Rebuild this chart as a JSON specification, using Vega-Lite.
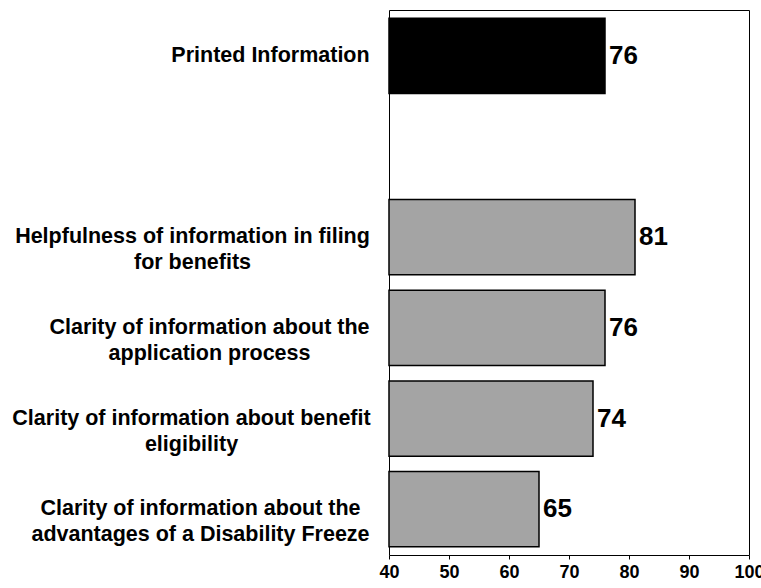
{
  "$schema": "https://vega.github.io/schema/vega-lite/v6.json",
  "width": 360,
  "height": 545,
  "autosize": {"type": "none"},
  "padding": {"left": 389, "top": 10, "right": 12, "bottom": 33},
  "background": "white",
  "config": {"view": {"stroke": "black", "strokeWidth": 1}, "font": "Liberation Sans"},
  "data": {"values": [
    {"item": "Printed Information", "value": 76, "kind": "printed"},
    {"item": "Helpfulness of information in filing|for benefits", "value": 81, "kind": "detail"},
    {"item": "Clarity of information about the|application process", "value": 76, "kind": "detail"},
    {"item": "Clarity of information about benefit|eligibility", "value": 74, "kind": "detail"},
    {"item": "Clarity of information about the|advantages of a Disability Freeze", "value": 65, "kind": "detail"}
  ]},
  "encoding": {
    "y": {
      "field": "item",
      "type": "nominal",
      "title": null,
      "scale": {
        "domain": ["Printed Information", " ", "Helpfulness of information in filing|for benefits", "Clarity of information about the|application process", "Clarity of information about benefit|eligibility", "Clarity of information about the|advantages of a Disability Freeze"],
        "paddingInner": 0.17,
        "paddingOuter": 0.09
      },
      "axis": {
        "ticks": false,
        "domain": false,
        "labelExpr": "split(datum.value, '|')",
        "labelFont": "Liberation Sans",
        "labelFontSize": 21.5,
        "labelFontWeight": "bold",
        "labelColor": "black",
        "labelAlign": "center",
        "labelLineHeight": 26,
        "labelLimit": 500,
        "labelPadding": {
          "condition": [
            {"test": "datum.value == 'Printed Information'", "value": 119},
            {"test": "indexof(datum.value, 'Helpfulness') == 0", "value": 197},
            {"test": "indexof(datum.value, 'application') >= 0", "value": 180},
            {"test": "indexof(datum.value, 'eligibility') >= 0", "value": 198}
          ],
          "value": 189
        }
      }
    }
  },
  "layer": [
    {
      "mark": {"type": "bar", "stroke": "black", "strokeWidth": 1.5},
      "encoding": {
        "x": {
          "field": "value",
          "type": "quantitative",
          "title": null,
          "scale": {"domain": [40, 100], "zero": false, "nice": false},
          "axis": {
            "values": [40, 50, 60, 70, 80, 90, 100],
            "grid": false,
            "domain": false,
            "tickColor": "black",
            "tickSize": 4,
            "labelFont": "Liberation Sans",
            "labelFontSize": 18,
            "labelFontWeight": "bold",
            "labelColor": "black",
            "labelPadding": 4,
            "labelFlush": false
          }
        },
        "x2": {"datum": 40},
        "color": {
          "field": "kind",
          "type": "nominal",
          "legend": null,
          "scale": {"domain": ["printed", "detail"], "range": ["#000000", "#a4a4a4"]}
        }
      }
    },
    {
      "mark": {"type": "text", "align": "left", "baseline": "middle", "dx": 4, "fontSize": 26, "fontWeight": "bold", "font": "Liberation Sans", "color": "black"},
      "encoding": {
        "x": {"field": "value", "type": "quantitative"},
        "text": {"field": "value", "type": "quantitative"}
      }
    }
  ]
}
